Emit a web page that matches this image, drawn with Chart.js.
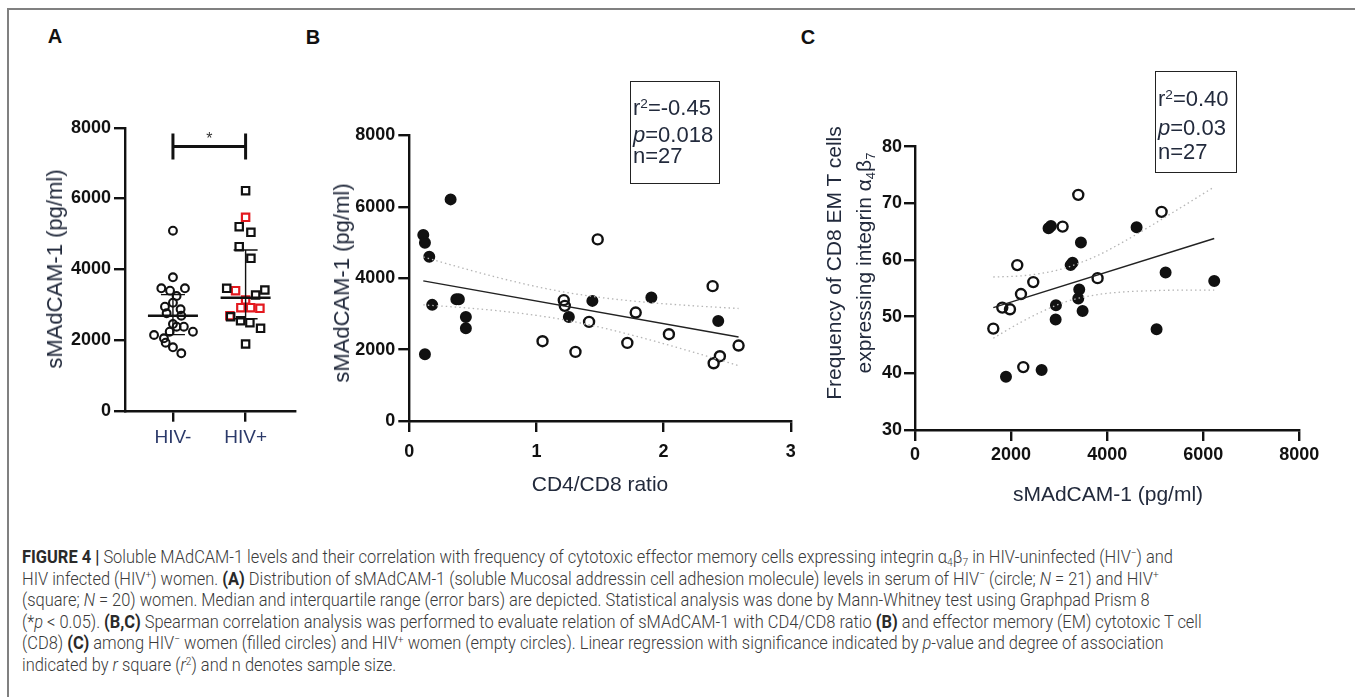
<!DOCTYPE html>
<html><head><meta charset="utf-8">
<script src="https://cdn.jsdelivr.net/npm/chart.js@4"></script>
<style>
html,body{margin:0;padding:0;background:#fff;}
body{width:1355px;height:697px;position:relative;overflow:hidden;font-family:"Liberation Sans",Arial,sans-serif;}
.fl{position:absolute;background:#808080;}
canvas{position:absolute;}
.t{position:absolute;white-space:nowrap;line-height:1;color:#222a3c;}
.c{transform:translate(-50%,-50%);}
.lv{transform:translate(0,-50%);}
.rot{transform:translate(-50%,-50%) rotate(-90deg);}
.box{position:absolute;border:1.5px solid #222;box-sizing:border-box;}
sup{font-size:.62em;position:relative;top:-.55em;vertical-align:baseline;line-height:0;}
sub{font-size:.62em;position:relative;top:.3em;vertical-align:baseline;line-height:0;}
.cap{position:absolute;left:22px;white-space:nowrap;line-height:1;font-family:Roboto,"Liberation Sans",sans-serif;font-weight:300;font-size:18.5px;color:#3a3a3a;transform-origin:0 50%;}
.cap b{font-weight:700;color:#2a2a2a;}
</style>
</head><body>
<div class="fl" style="left:7px;top:8px;width:1348px;height:1.5px"></div>
<div class="fl" style="left:7px;top:8px;width:1.5px;height:689px"></div>

<canvas id="cA"></canvas>
<canvas id="cB"></canvas>
<canvas id="cC"></canvas>

<div class="t c" style="left:55px;top:36px;font-weight:700;font-size:20px;color:#111">A</div>
<div class="t c" style="left:313px;top:37px;font-weight:700;font-size:20px;color:#111">B</div>
<div class="t c" style="left:808px;top:37px;font-weight:700;font-size:20px;color:#111">C</div>

<div class="t rot" style="left:55px;top:269px;font-size:22px">sMAdCAM-1 (pg/ml)</div>
<div class="t rot" style="left:342px;top:283px;font-size:22px">sMAdCAM-1 (pg/ml)</div>
<div class="t c" style="left:600px;top:483px;font-size:21px">CD4/CD8 ratio</div>
<div class="t rot" style="left:833px;top:263px;font-size:21px">Frequency of CD8 EM T cells</div>
<div class="t rot" style="left:863px;top:263px;font-size:21px">expressing integrin α<sub>4</sub>β<sub>7</sub></div>
<div class="t c" style="left:1108px;top:493px;font-size:21px">sMAdCAM-1 (pg/ml)</div>

<div class="box" style="left:630px;top:81px;width:90px;height:103px"></div>
<div class="t lv" style="left:633px;top:108px;font-size:22px">r<sup>2</sup>=-0.45</div>
<div class="t lv" style="left:633px;top:135px;font-size:22px"><i>p</i>=0.018</div>
<div class="t lv" style="left:633px;top:156px;font-size:22px">n=27</div>

<div class="box" style="left:1155px;top:71px;width:82px;height:102px"></div>
<div class="t lv" style="left:1158px;top:99px;font-size:22px">r<sup>2</sup>=0.40</div>
<div class="t lv" style="left:1158px;top:128px;font-size:22px"><i>p</i>=0.03</div>
<div class="t lv" style="left:1158px;top:152px;font-size:22px">n=27</div>

<div class="cap" id="cap1" style="top:557px"><b>FIGURE 4 |</b> Soluble MAdCAM-1 levels and their correlation with frequency of cytotoxic effector memory cells expressing integrin α<sub>4</sub>β<sub>7</sub> in HIV-uninfected (HIV<sup>−</sup>) and</div>
<div class="cap" style="top:578.6px">HIV infected (HIV<sup>+</sup>) women. <b>(A)</b> Distribution of sMAdCAM-1 (soluble Mucosal addressin cell adhesion molecule) levels in serum of HIV<sup>−</sup> (circle; <i>N</i> = 21) and HIV<sup>+</sup></div>
<div class="cap" style="top:600.2px">(square; <i>N</i> = 20) women. Median and interquartile range (error bars) are depicted. Statistical analysis was done by Mann-Whitney test using Graphpad Prism 8</div>
<div class="cap" style="top:621.8px">(*<i>p</i> &lt; 0.05). <b>(B,C)</b> Spearman correlation analysis was performed to evaluate relation of sMAdCAM-1 with CD4/CD8 ratio <b>(B)</b> and effector memory (EM) cytotoxic T cell</div>
<div class="cap" style="top:643.4px">(CD8) <b>(C)</b> among HIV<sup>−</sup> women (filled circles) and HIV<sup>+</sup> women (empty circles). Linear regression with significance indicated by <i>p</i>-value and degree of association</div>
<div class="cap" style="top:665px">indicated by <i>r</i> square (<i>r</i><sup>2</sup>) and n denotes sample size.</div>

<script>
// ---------------- DATA ----------------
// Panel A
const groupsA = ['HIV-', 'HIV+'];
const hivNegA = [5089,3771,3460,3393,3460,3243,3053,2940,2866,2753,2686,2451,2375,2375,2233,2233,2140,2047,1922,1792,1623];
const hivNegJitterA = [0,0,-0.16,-0.04,0.165,0.05,0,-0.11,0.105,-0.087,0.115,0,0.05,0.15,0.275,-0.045,-0.26,-0.124,-0.1,0,0.115];
const hivPosBlackA = [6220,5202,5043,4636,4308,3460,3412,3271,2657,2544,2488,2329,1886];
const hivPosBlackJitterA = [0,-0.088,0.073,-0.088,0.073,-0.26,0.265,0.138,-0.206,-0.069,0.059,0.206,0];
const hivPosRedA = [5467,3393,3130,2912,2912,2894,2686];
const hivPosRedJitterA = [0,-0.138,0,-0.065,0.069,0.197,-0.216];
const medianA = [2686, 3195];
const q1A = [2150, 2600];
const q3A = [3280, 4543];
const sigBarA = 7470;
const yTicksA = [0, 2000, 4000, 6000, 8000];

// Panel B (CD4/CD8 ratio vs sMAdCAM-1)
const bNegX = [0.325,0.11,0.123,0.157,0.18,0.37,0.39,0.445,0.445,0.123,1.255,1.44,1.904,2.43];
const bNegY = [6210,5209,4993,4600,3254,3414,3414,2917,2600,1871,2917,3366,3461,2805];
const bPosX = [1.482,1.215,1.223,1.414,1.781,1.048,1.307,1.715,2.042,2.386,2.59,2.443,2.394];
const bPosY = [5088,3386,3226,2777,3040,2236,1936,2188,2432,3778,2115,1815,1618];
const bFitX = [0.11, 2.59];
const bFitY = [3927, 2352];
const bBandX = [0.11, 0.4, 0.69, 1.0, 1.21, 1.5, 1.87, 2.2, 2.59];
const bBandUpper = [4600, 4303, 4026, 3765, 3619, 3463, 3325, 3236, 3152];
const bBandLower = [3254, 3183, 3092, 2959, 2839, 2627, 2295, 1964, 1552];

// Panel C (sMAdCAM-1 vs frequency of CD8 EM a4b7+)
const cPosX = [3399,5133,3073,2129,2462,3801,2206,1817,1977,1630,2254];
const cPosY = [71.5,68.5,65.9,59.1,56.1,56.8,54.0,51.6,51.3,47.9,41.1];
const cNegX = [2780,2830,4613,3454,3240,3280,5217,6229,3419,3399,2934,3489,2928,5029,2636,1894];
const cNegY = [65.6,66.0,65.8,63.1,59.1,59.5,57.8,56.3,54.8,53.2,52.0,51.0,49.5,47.8,40.6,39.4];
const cFitX = [1630, 6229];
const cFitY = [51.6, 63.8];
const cBandX = [1630, 2200, 2800, 3200, 3800, 4400, 5000, 5600, 6229];
const cBandUpper = [57.0, 57.2, 57.9, 58.8, 60.8, 63.5, 66.5, 69.6, 72.9];
const cBandLower = [46.2, 49.0, 51.5, 52.8, 53.9, 54.4, 54.6, 54.7, 54.7];

// ---------------- CHARTS ----------------
Chart.defaults.font.family = '"Liberation Sans", Arial, sans-serif';
Chart.defaults.animation = false;
Chart.defaults.plugins.legend.display = false;
Chart.defaults.plugins.tooltip.enabled = false;

const INK = '#111';
const plain = v => String(v);
function axis(o) {
  return Object.assign({
    type: 'linear',
    grid: {drawOnChartArea: false, drawTicks: true, tickLength: 11, color: INK, lineWidth: 2.4},
    border: {display: true, color: INK, width: 2.4}
  }, o);
}
function zip(xs, ys) { return xs.map((x, i) => ({x: x, y: ys[i]})); }
function pts(data, style, fill, stroke, r, bw) {
  return {type: 'scatter', data: data, pointStyle: style, pointRadius: r, pointHoverRadius: r,
          pointBackgroundColor: fill, pointBorderColor: stroke, pointBorderWidth: bw, showLine: false, clip: false};
}
function curve(data, color, width, dash) {
  return {type: 'scatter', data: data, showLine: true, pointRadius: 0, borderColor: color,
          borderWidth: width, borderDash: dash || [], tension: 0.4, cubicInterpolationMode: 'monotone', fill: false, clip: false};
}
function place(id, box, area, cfg) {
  const cv = document.getElementById(id);
  cv.width = box.w; cv.height = box.h;
  cv.style.left = box.x + 'px'; cv.style.top = box.y + 'px';
  cv.style.width = box.w + 'px'; cv.style.height = box.h + 'px';
  cfg.options.responsive = false;
  cfg.options.devicePixelRatio = 1;
  cfg.options.layout = {padding: {left: 0, top: area.t - box.y, right: box.x + box.w - area.r, bottom: 0}};
  cfg.options.scales.x.afterFit = s => { s.height = box.y + box.h - area.b; };
  cfg.options.scales.y.afterFit = s => { s.width = area.l - box.x; };
  return new Chart(cv, cfg);
}
const tickFont = {size: 18, weight: 'bold'};

// Panel A
const statsPlugin = {
  id: 'statsA',
  afterDatasetsDraw(chart) {
    const ctx = chart.ctx, x = chart.scales.x, y = chart.scales.y;
    ctx.save();
    ctx.strokeStyle = INK;
    groupsA.forEach((g, i) => {
      const cx = x.getPixelForValue(i + 1);
      ctx.lineWidth = 1.4;
      ctx.beginPath();
      ctx.moveTo(cx, y.getPixelForValue(q1A[i])); ctx.lineTo(cx, y.getPixelForValue(q3A[i]));
      [q1A[i], q3A[i]].forEach(v => {
        const py = y.getPixelForValue(v);
        ctx.moveTo(cx - 12, py); ctx.lineTo(cx + 12, py);
      });
      ctx.stroke();
      ctx.lineWidth = 2.6;
      ctx.beginPath();
      const pm = y.getPixelForValue(medianA[i]);
      ctx.moveTo(cx - 25, pm); ctx.lineTo(cx + 25, pm);
      ctx.stroke();
    });
    const x1 = x.getPixelForValue(1), x2 = x.getPixelForValue(2), ps = y.getPixelForValue(sigBarA);
    ctx.lineWidth = 3;
    ctx.beginPath();
    ctx.moveTo(x1, ps); ctx.lineTo(x2, ps);
    ctx.moveTo(x1, ps - 13); ctx.lineTo(x1, ps + 13);
    ctx.moveTo(x2, ps - 13); ctx.lineTo(x2, ps + 13);
    ctx.stroke();
    ctx.fillStyle = '#333';
    ctx.font = '16px "Liberation Sans", Arial';
    ctx.textAlign = 'center'; ctx.textBaseline = 'middle';
    ctx.fillText('*', (x1 + x2) / 2, ps - 7);
    ctx.restore();
  }
};

place('cA', {x: 0, y: 90, w: 330, h: 380}, {l: 125, t: 127.7, r: 295, b: 410.7}, {
  type: 'scatter',
  data: {datasets: [
    pts(hivNegA.map((v, i) => ({x: 1 + hivNegJitterA[i], y: v})), 'circle', 'rgba(0,0,0,0)', INK, 3.9, 2.1),
    pts(hivPosBlackA.map((v, i) => ({x: 2 + hivPosBlackJitterA[i], y: v})), 'rect', 'rgba(0,0,0,0)', INK, 5.2, 2.2),
    pts(hivPosRedA.map((v, i) => ({x: 2 + hivPosRedJitterA[i], y: v})), 'rect', 'rgba(0,0,0,0)', '#e3191f', 5.2, 2.2)
  ]},
  options: {
    scales: {
      x: axis({min: 0.34, max: 2.68,
        afterBuildTicks: s => { s.ticks = groupsA.map((g, i) => ({value: i + 1})); },
        ticks: {callback: v => groupsA[v - 1], font: {size: 19}, color: '#2c3a6a', padding: 5, maxRotation: 0, autoSkip: false}}),
      y: axis({min: 0, max: 8000,
        afterBuildTicks: s => { s.ticks = yTicksA.map(v => ({value: v})); },
        ticks: {callback: plain, font: tickFont, color: INK, padding: 3}})
    }
  },
  plugins: [statsPlugin]
});

// Panel B
place('cB', {x: 300, y: 100, w: 540, h: 400}, {l: 409.3, t: 135.5, r: 790.7, b: 421}, {
  type: 'scatter',
  data: {datasets: [
    curve(zip(bBandX, bBandUpper), '#b5b5b5', 1.3, [1.5, 3]),
    curve(zip(bBandX, bBandLower), '#b5b5b5', 1.3, [1.5, 3]),
    curve(zip(bFitX, bFitY), '#222', 1.4),
    pts(zip(bNegX, bNegY), 'circle', INK, INK, 5, 2),
    pts(zip(bPosX, bPosY), 'circle', 'rgba(0,0,0,0)', INK, 5, 2.4)
  ]},
  options: {
    scales: {
      x: axis({min: 0, max: 3, ticks: {stepSize: 1, callback: plain, font: tickFont, color: INK, padding: 9, maxRotation: 0}}),
      y: axis({min: 0, max: 8000, ticks: {stepSize: 2000, callback: plain, font: tickFont, color: INK, padding: 3}})
    }
  }
});

// Panel C
place('cC', {x: 790, y: 100, w: 550, h: 420}, {l: 915, t: 146.7, r: 1299.3, b: 430}, {
  type: 'scatter',
  data: {datasets: [
    curve(zip(cBandX, cBandUpper), '#b5b5b5', 1.3, [1.5, 3]),
    curve(zip(cBandX, cBandLower), '#b5b5b5', 1.3, [1.5, 3]),
    curve(zip(cFitX, cFitY), '#222', 1.4),
    pts(zip(cNegX, cNegY), 'circle', INK, INK, 5, 2),
    pts(zip(cPosX, cPosY), 'circle', 'rgba(0,0,0,0)', INK, 5, 2.4)
  ]},
  options: {
    scales: {
      x: axis({min: 0, max: 8000, ticks: {stepSize: 2000, callback: plain, font: tickFont, color: INK, padding: 3, maxRotation: 0}}),
      y: axis({min: 30, max: 80, ticks: {stepSize: 10, callback: plain, font: tickFont, color: INK, padding: 2}})
    }
  }
});

// Caption: one common horizontal scale so the first line spans the width it has in the reference
const capScale = 1151 / document.getElementById('cap1').getBoundingClientRect().width;
document.querySelectorAll('.cap').forEach(el => {
  el.style.transform = 'translateY(-50%) scaleX(' + capScale.toFixed(4) + ')';
});
</script>
</body></html>
